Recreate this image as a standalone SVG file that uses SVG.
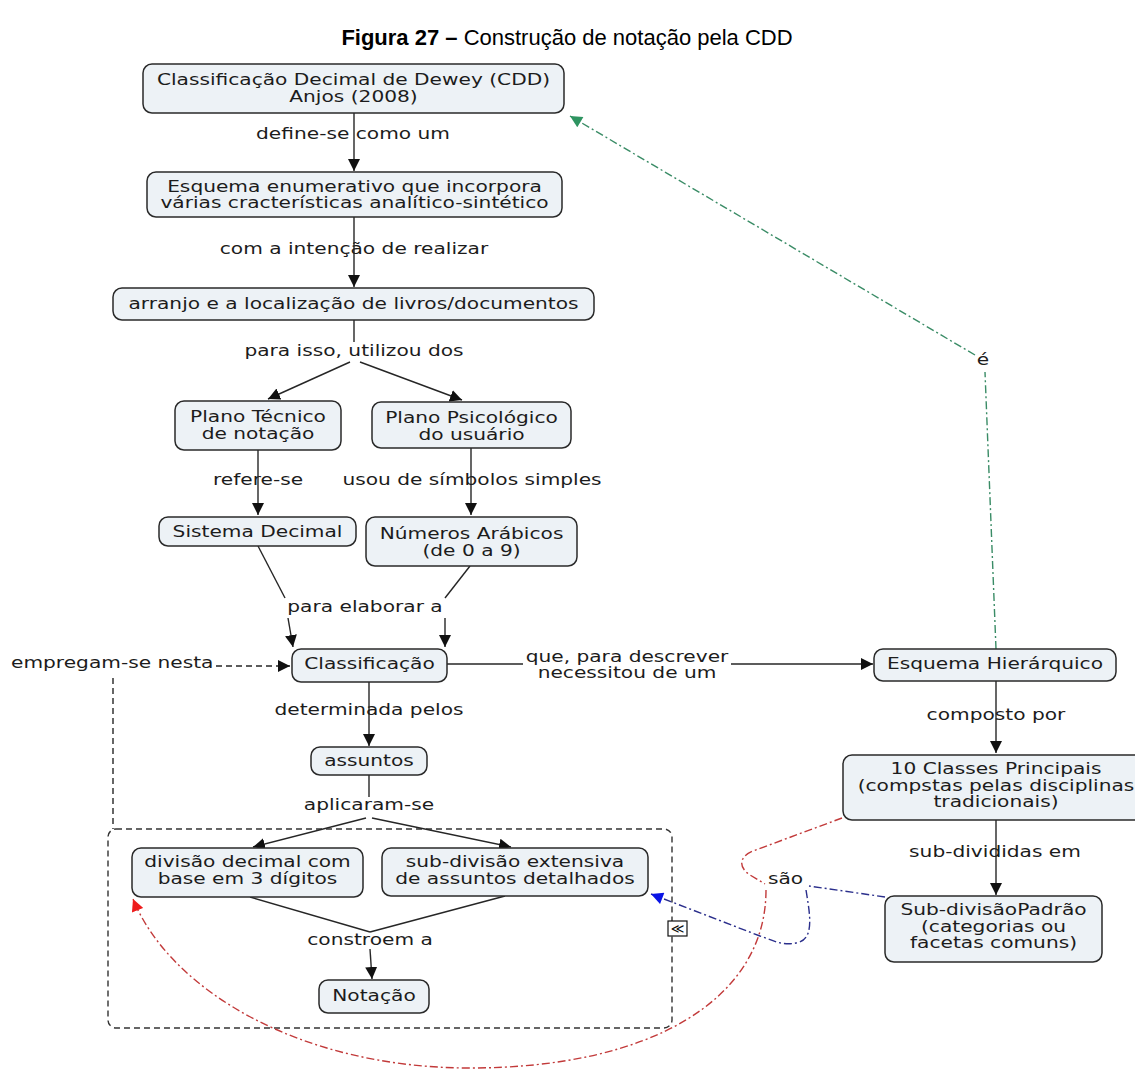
<svg xmlns="http://www.w3.org/2000/svg" width="1135" height="1070" viewBox="0 0 1135 1070">
<style>
.bg{fill:#ffffff}
.node rect{fill:#edf2f6;stroke:#2a2a2a;stroke-width:1.5}
.t{font-family:"DejaVu Sans",Verdana,sans-serif;font-size:15px;fill:#1c1c1c;text-anchor:middle}
.ts{font-family:"DejaVu Sans",Verdana,sans-serif;font-size:15px;fill:#1c1c1c;text-anchor:start}
.title{font-family:"Liberation Sans",Arial,sans-serif;font-size:22px;fill:#000;text-anchor:middle}
.ln{fill:none;stroke:#262626;stroke-width:1.4}
.arr{marker-end:url(#ah)}
.dash{fill:none;stroke:#262626;stroke-width:1.4;stroke-dasharray:6 4}
.grp{fill:none;stroke:#333;stroke-width:1.4;stroke-dasharray:6 4}
.green{fill:none;stroke:#3a8c66;stroke-width:1.4;stroke-dasharray:8 3 2 3}
.red{fill:none;stroke:#c23a3a;stroke-width:1.4;stroke-dasharray:8 3 2 3}
.blue{fill:none;stroke:#2b2f8c;stroke-width:1.4;stroke-dasharray:8 3 2 3}
</style>
<defs>
<marker id="ah" viewBox="0 0 12 12" refX="12" refY="6" markerWidth="12" markerHeight="13" markerUnits="userSpaceOnUse" orient="auto"><path d="M0,0 L12,6 L0,12 z" fill="#111"/></marker>
<marker id="ahg" viewBox="0 0 12 12" refX="12" refY="6" markerWidth="13" markerHeight="12" markerUnits="userSpaceOnUse" orient="auto"><path d="M0,0 L12,6 L0,12 z" fill="#2e9461"/></marker>
<marker id="ahr" viewBox="0 0 12 12" refX="12" refY="6" markerWidth="13" markerHeight="12" markerUnits="userSpaceOnUse" orient="auto"><path d="M0,0 L12,6 L0,12 z" fill="#ee1c1c"/></marker>
<marker id="ahb" viewBox="0 0 12 12" refX="12" refY="6" markerWidth="13" markerHeight="12" markerUnits="userSpaceOnUse" orient="auto"><path d="M0,0 L12,6 L0,12 z" fill="#0a14e6"/></marker>
</defs>
<rect class="bg" x="0" y="0" width="1135" height="1070"/>

<text class="title" x="567" y="45"><tspan font-weight="bold">Figura 27 –</tspan> Construção de notação pela CDD</text>

<!-- nested group frame -->
<g id="group-frame">
<rect class="grp" x="108" y="829" width="564" height="199" rx="8"/>
<g id="collapse-icon">
<rect x="668" y="921" width="19" height="15" fill="#fff" stroke="#111" stroke-width="1.2"/>
<text x="677.5" y="933" font-family="DejaVu Sans,sans-serif" font-size="13" text-anchor="middle" fill="#111">≪</text>
</g>
</g>

<g id="connectors">
<path class="ln arr" d="M354,113 L354,171"/>
<path class="ln arr" d="M354,217 L354,287"/>
<path class="ln" d="M354,320 L354,342"/>
<path class="ln arr" d="M350,362 L268,399"/>
<path class="ln arr" d="M360,362 L462,400"/>
<path class="ln arr" d="M258,450 L258,515"/>
<path class="ln arr" d="M471,448 L471,515"/>
<path class="ln" d="M258,546 L285,598"/>
<path class="ln arr" d="M288,618 L293,647"/>
<path class="ln" d="M470,566 L445,598"/>
<path class="ln arr" d="M445,618 L445,647"/>
<path class="dash arr" d="M216,666 L290,666"/>
<path class="dash" d="M113,678 L113,829"/>
<path class="ln" d="M447,664 L523,664"/>
<path class="ln arr" d="M731,664 L873,664"/>
<path class="ln arr" d="M369,682 L369,746"/>
<path class="ln" d="M369,775 L369,797"/>
<path class="ln arr" d="M366,818 L253,847"/>
<path class="ln arr" d="M372,818 L511,847"/>
<path class="ln" d="M250,897 L370,932"/>
<path class="ln" d="M505,896 L370,932"/>
<path class="ln arr" d="M370,949 L372,979"/>
<path class="ln arr" d="M996,681 L996,753"/>
<path class="ln arr" d="M996,820 L996,895"/>
<path class="green" d="M996,649 L985,372"/>
<path class="green" d="M975,355 L570,116" marker-end="url(#ahg)"/>
<path class="blue" d="M885,897 L809,886"/>
<path class="blue" d="M806,890 C810,915 815,940 796,943 C782,946 772,940 760,936 L651,894" marker-end="url(#ahb)"/>
<path class="red" d="M842,818 L753,851 C738,857 739,868 750,875 L765,884"/>
<path class="red" d="M766,890 C766,1000 650,1068 470,1068 C300,1068 170,990 133,899" marker-end="url(#ahr)"/>
</g>

<g id="linking-phrases">
<text class="t" transform="translate(353 139) scale(1.345 1)">define-se como um</text>
<text class="t" transform="translate(354 254) scale(1.345 1)">com a intenção de realizar</text>
<text class="t" transform="translate(354 356) scale(1.345 1)">para isso, utilizou dos</text>
<text class="t" transform="translate(258 485) scale(1.345 1)">refere-se</text>
<text class="t" transform="translate(472 485) scale(1.345 1)">usou de símbolos simples</text>
<text class="t" transform="translate(365 612) scale(1.345 1)">para elaborar a</text>
<text class="ts" transform="translate(11 668) scale(1.345 1)">empregam-se nesta</text>
<text class="t" transform="translate(627 662) scale(1.345 1)">que, para descrever</text>
<text class="t" transform="translate(627 678) scale(1.345 1)">necessitou de um</text>
<text class="t" transform="translate(369 715) scale(1.345 1)">determinada pelos</text>
<text class="t" transform="translate(369 810) scale(1.345 1)">aplicaram-se</text>
<text class="t" transform="translate(370 945) scale(1.345 1)">constroem a</text>
<text class="t" transform="translate(996 720) scale(1.345 1)">composto por</text>
<text class="t" transform="translate(995 857) scale(1.345 1)">sub-divididas em</text>
<text class="ts" transform="translate(768 884) scale(1.345 1)">são</text>
<text class="t" transform="translate(983 365) scale(1.345 1)">é</text>
</g>

<g id="n-cdd" class="node">
<rect x="143" y="64" width="421" height="49" rx="9"/>
<text class="t" transform="translate(353.5 85) scale(1.345 1)">Classificação Decimal de Dewey (CDD)</text>
<text class="t" transform="translate(353.5 102) scale(1.345 1)">Anjos (2008)</text>
</g>
<g id="n-esquema-enum" class="node">
<rect x="147" y="172" width="415" height="45" rx="9"/>
<text class="t" transform="translate(354.5 192) scale(1.345 1)">Esquema enumerativo que incorpora</text>
<text class="t" transform="translate(354.5 208) scale(1.345 1)">várias cracterísticas analítico-sintético</text>
</g>
<g id="n-arranjo" class="node">
<rect x="113" y="288" width="481" height="32" rx="9"/>
<text class="t" transform="translate(353.5 309) scale(1.345 1)">arranjo e a localização de livros/documentos</text>
</g>
<g id="n-plano-tecnico" class="node">
<rect x="175" y="401" width="166" height="49" rx="9"/>
<text class="t" transform="translate(258 422) scale(1.345 1)">Plano Técnico</text>
<text class="t" transform="translate(258 439) scale(1.345 1)">de notação</text>
</g>
<g id="n-plano-psico" class="node">
<rect x="372" y="402" width="199" height="46" rx="9"/>
<text class="t" transform="translate(471.5 423) scale(1.345 1)">Plano Psicológico</text>
<text class="t" transform="translate(471.5 440) scale(1.345 1)">do usuário</text>
</g>
<g id="n-sistema-decimal" class="node">
<rect x="159" y="517" width="197" height="29" rx="9"/>
<text class="t" transform="translate(257.5 537) scale(1.345 1)">Sistema Decimal</text>
</g>
<g id="n-numeros" class="node">
<rect x="366" y="517" width="211" height="49" rx="9"/>
<text class="t" transform="translate(471.5 539) scale(1.345 1)">Números Arábicos</text>
<text class="t" transform="translate(471.5 556) scale(1.345 1)">(de 0 a 9)</text>
</g>
<g id="n-classificacao" class="node">
<rect x="292" y="649" width="155" height="33" rx="9"/>
<text class="t" transform="translate(369.5 669) scale(1.345 1)">Classificação</text>
</g>
<g id="n-esquema-hier" class="node">
<rect x="874" y="649" width="242" height="32" rx="9"/>
<text class="t" transform="translate(995 669) scale(1.345 1)">Esquema Hierárquico</text>
</g>
<g id="n-assuntos" class="node">
<rect x="311" y="747" width="116" height="28" rx="9"/>
<text class="t" transform="translate(369 766) scale(1.345 1)">assuntos</text>
</g>
<g id="n-10classes" class="node">
<rect x="843" y="755" width="310" height="65" rx="9"/>
<text class="t" transform="translate(996 774) scale(1.345 1)">10 Classes Principais</text>
<text class="t" transform="translate(996 791) scale(1.345 1)">(compstas pelas disciplinas</text>
<text class="t" transform="translate(996 807) scale(1.345 1)">tradicionais)</text>
</g>
<g id="n-divisao-decimal" class="node">
<rect x="132" y="848" width="231" height="49" rx="9"/>
<text class="t" transform="translate(247.5 867) scale(1.345 1)">divisão decimal com</text>
<text class="t" transform="translate(247.5 884) scale(1.345 1)">base em 3 dígitos</text>
</g>
<g id="n-subdivisao-ext" class="node">
<rect x="382" y="848" width="266" height="48" rx="9"/>
<text class="t" transform="translate(515 867) scale(1.345 1)">sub-divisão extensiva</text>
<text class="t" transform="translate(515 884) scale(1.345 1)">de assuntos detalhados</text>
</g>
<g id="n-subdivisao-padrao" class="node">
<rect x="885" y="896" width="217" height="66" rx="9"/>
<text class="t" transform="translate(993.5 915) scale(1.345 1)">Sub-divisãoPadrão</text>
<text class="t" transform="translate(993.5 932) scale(1.345 1)">(categorias ou</text>
<text class="t" transform="translate(993.5 948) scale(1.345 1)">facetas comuns)</text>
</g>
<g id="n-notacao" class="node">
<rect x="319" y="980" width="110" height="33" rx="9"/>
<text class="t" transform="translate(374 1001) scale(1.345 1)">Notação</text>
</g>
</svg>
